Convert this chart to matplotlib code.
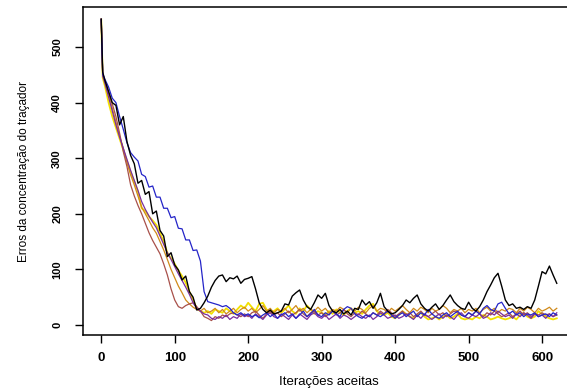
import numpy as np
import matplotlib
matplotlib.use("Agg")
import matplotlib.pyplot as plt

iteracoes = [0, 2] + list(range(5, 625, 5))

serie_preta = [
    550, 455, 440, 420, 400, 395, 360, 375, 330, 305, 290,
    255, 260, 235, 240, 200, 205, 170, 160, 123, 130,
    108, 99, 81, 88, 60, 50, 27, 30, 40, 52,
    68, 80, 88, 90, 78, 85, 83, 88, 75, 82,
    84, 87, 65, 40, 28, 22, 27, 20, 22, 25,
    38, 36, 52, 58, 63, 45, 33, 28, 40, 54,
    48, 57, 35, 25, 22, 28, 20, 25, 18, 30,
    28, 45, 36, 42, 30, 40, 57, 33, 25, 20,
    22, 28, 35, 45, 40, 48, 54, 38, 30, 25,
    32, 38, 28, 35, 45, 54, 42, 35, 30, 28,
    41, 30, 25, 33, 45, 60, 72, 85, 93, 70,
    45, 35, 38, 30, 32, 28, 33, 30, 45, 70,
    96, 92, 106, 90, 75,
]

serie_azul = [
    550, 452, 442, 428, 408, 400, 375, 352, 328, 310, 302,
    295, 271, 267, 248, 250, 230, 230, 210, 210, 193,
    195, 174, 173, 153, 153, 134, 135, 115, 60, 42,
    40, 38, 36, 33, 35, 30, 22, 18, 22, 17,
    20, 15, 18, 13, 18, 22, 15, 20, 12, 18,
    22, 15, 20, 12, 18, 25, 15, 20, 28, 18,
    15, 22, 18, 25, 20, 15, 28, 33, 30, 20,
    15, 12, 18, 15, 22, 18, 15, 20, 25, 18,
    12, 18, 22, 15, 20, 25, 15, 22, 18, 28,
    20, 15, 12, 18, 22, 15, 20, 25, 18, 15,
    22, 18, 25, 20, 30, 35, 28, 25, 38, 41,
    30, 20, 25, 18, 22, 15, 20, 18, 22, 15,
    18, 20, 15, 22, 18,
]

serie_amarela = [
    550, 445, 430, 400, 375, 355, 335, 315, 295, 275, 258,
    240, 210, 205, 195, 188, 180, 165, 150, 130, 120,
    110, 98, 88, 76, 60, 45, 30, 25, 22, 25,
    20, 28, 25, 22, 30, 25, 20, 28, 35, 30,
    40, 32, 25, 38, 40, 28, 22, 25, 30, 22,
    28, 35, 25, 20, 30, 25, 35, 28, 20, 25,
    22, 18, 25, 20, 28, 22, 18, 25, 30, 22,
    25, 20, 28, 35, 38, 25, 20, 18, 22, 15,
    12, 18, 25, 20, 15, 12, 18, 22, 15, 10,
    12, 15, 10, 15, 18, 12, 15, 20, 12, 10,
    12, 10, 15, 12, 18, 15, 10, 12, 15, 12,
    10, 12, 15, 10, 18, 22, 15, 12, 15, 25,
    20, 15, 12, 10, 12,
]

serie_marrom = [
    550, 450, 440, 418, 398, 375, 345, 312, 285, 252, 232,
    215, 200, 183, 166, 152, 140, 128, 110, 90, 65,
    45, 33, 30, 35, 38, 40, 33, 25, 15, 12,
    8, 15, 12, 18, 15, 20, 22, 18, 15, 20,
    15, 22, 25, 18, 12, 20, 25, 18, 22, 15,
    20, 25, 18, 22, 28, 20, 15, 22, 25, 18,
    22, 15, 20, 25, 18, 22, 28, 20, 15, 22,
    18, 25, 20, 15, 22, 18, 25, 20, 28, 22,
    15, 20, 25, 18, 22, 15, 20, 25, 18, 15,
    20, 25, 18, 22, 15, 20, 25, 22, 18, 15,
    22, 18, 25, 20, 15, 22, 18, 25, 20, 15,
    18, 22, 15, 20, 25, 18, 22, 15, 20, 18,
    22, 18, 20, 15, 18,
]

serie_roxa = [
    550, 448, 435, 410, 385, 360, 338, 318, 298, 278, 260,
    242, 222, 208, 196, 185, 175, 160, 145, 130, 118,
    105, 92, 80, 68, 55, 40, 30, 25, 20, 18,
    12, 10, 15, 12, 18, 10, 15, 12, 20, 15,
    18, 12, 20, 15, 10, 18, 22, 15, 12, 20,
    15, 10, 18, 12, 20, 15, 10, 18, 22, 15,
    12, 18, 10, 15, 20, 12, 18, 15, 10, 15,
    20, 15, 12, 18, 10, 15, 22, 18, 12, 15,
    18, 12, 15, 20, 15, 10, 18, 12, 20, 15,
    10, 15, 20, 12, 18, 15, 10, 18, 22, 15,
    12, 18, 15, 20, 12, 15, 22, 18, 25, 20,
    15, 18, 12, 20, 15, 22, 18, 12, 20, 15,
    18, 12, 20, 15, 22,
]

serie_laranja = [
    550, 450, 438, 415, 390, 365, 340, 318, 292, 270, 252,
    232, 212, 200, 188, 175, 165, 150, 135, 118, 100,
    85, 70, 58, 45, 38, 32, 28, 25, 30, 22,
    25, 30, 22, 28, 20, 25, 30, 22, 28, 32,
    25, 30, 22, 28, 35, 25, 30, 22, 28, 25,
    30, 22, 28, 35, 25, 30, 22, 28, 25, 32,
    25, 30, 22, 28, 25, 32, 28, 22, 30, 25,
    32, 28, 22, 30, 35, 25, 30, 28, 22, 30,
    25, 30, 35, 28, 22, 30, 25, 32, 28, 22,
    30, 25, 28, 35, 30, 22, 28, 25, 30, 22,
    28, 25, 30, 22, 28, 32, 25, 30, 22, 28,
    25, 30, 28, 22, 30, 25, 32, 28, 22, 30,
    25, 28, 32, 25, 30,
]

x_ticks = [0, 100, 200, 300, 400, 500, 600]
y_ticks = [0, 100, 200, 300, 400, 500]
x_label = "Iterações aceitas"
y_label = "Erros da concentração do traçador"

series = [
    (serie_amarela, "#F2E000", 1.3),
    (serie_laranja, "#D08A1A", 0.9),
    (serie_marrom, "#A8504A", 0.9),
    (serie_roxa, "#7A2E9E", 0.9),
    (serie_azul, "#2424C8", 0.9),
    (serie_preta, "#000000", 1.0),
]

fig = plt.figure(figsize=(5.67, 3.89), dpi=100)
ax = fig.add_axes([0.1464, 0.1388, 0.8677, 0.8432])

for vals, col, lw in series:
    assert len(vals) == len(iteracoes)
    ax.plot(iteracoes, vals, color=col, lw=lw)

ax.set_xlim(-24.8, 644.8)
ax.set_ylim(-18, 572)
ax.set_xticks(x_ticks)
ax.set_yticks(y_ticks)
ax.set_xticklabels([str(v) for v in x_ticks], fontfamily="Liberation Sans",
                   fontweight="bold", fontsize=9.5)
ax.set_yticklabels([str(v) for v in y_ticks], fontfamily="Liberation Sans",
                   fontweight="bold", fontsize=8, rotation=90, va="center")
ax.tick_params(axis="x", direction="out", length=6, width=1, pad=6)
ax.tick_params(axis="y", direction="out", length=6, width=1, pad=9)
for s in ax.spines.values():
    s.set_linewidth(1.1)

ax.set_xlabel(x_label, fontfamily="Liberation Sans", fontsize=9.5)
ax.set_ylabel(y_label, fontfamily="Liberation Sans", fontsize=8.5)
ax.xaxis.set_label_coords(0.5, -0.143)
ax.yaxis.set_label_coords(-0.12, 0.5)
ax.xaxis.label.set_va("center")
ax.yaxis.label.set_va("center")

fig.savefig("out.png", dpi=100)
